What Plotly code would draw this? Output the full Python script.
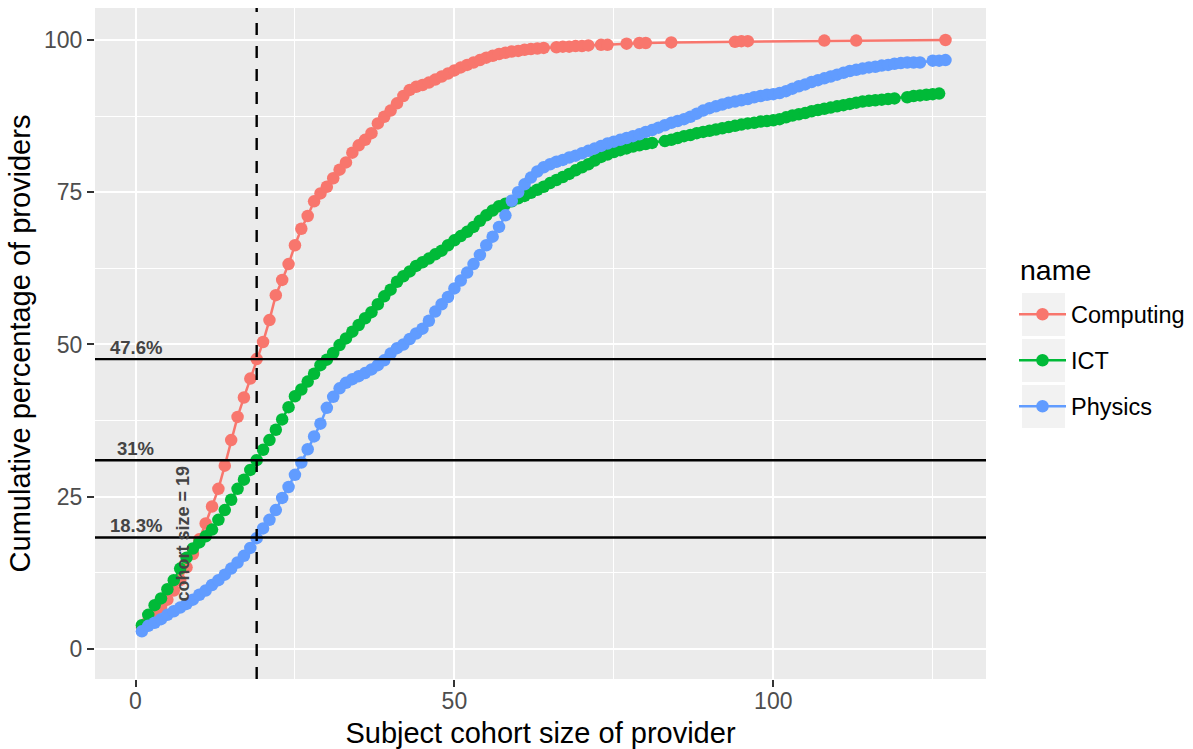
import plotly.graph_objects as go

# ---------------- data ----------------
series_names = ["Computing", "ICT", "Physics"]
series_colors = ["#F8766D", "#00BA38", "#619CFF"]

computing_x = list(range(1, 65)) + [66, 67, 68, 69, 70, 71, 73, 74, 77, 79, 80, 84, 94, 95, 96, 108, 113, 127]
computing_y = [
    3.5, 4.6, 5.6, 6.9, 8.1, 9.6, 11.3, 13.4, 15.6, 18.0,
    20.6, 23.4, 26.3, 30.1, 34.3, 38.1, 41.3, 44.4, 47.6, 50.4,
    54.0, 58.1, 60.6, 63.2, 66.3, 69.0, 71.1, 73.5, 74.8, 75.9,
    77.3, 78.7, 79.9, 81.5, 82.7, 83.6, 84.7, 86.3, 87.4, 88.4,
    89.6, 90.8, 91.8, 92.3, 92.6, 93.0, 93.5, 94.0, 94.5, 95.0,
    95.5, 95.9, 96.3, 96.7, 97.1, 97.4, 97.7, 97.9, 98.1, 98.2,
    98.4, 98.5, 98.6, 98.7,
    98.8, 98.9, 98.9, 99.0, 99.0, 99.1, 99.2, 99.2, 99.4, 99.5, 99.5, 99.6,
    99.7, 99.8, 99.8, 99.9, 99.9, 100.0,
]

ict_x = list(range(1, 82)) + list(range(83, 120)) + list(range(121, 127))
ict_y = [
    3.9, 5.6, 7.2, 8.3, 9.8, 11.3, 13.2, 15.0, 16.5, 17.5,
    18.5, 19.6, 21.2, 22.8, 24.5, 26.3, 27.8, 29.4, 31.0, 32.7,
    34.3, 36.0, 37.7, 39.7, 41.5, 42.6, 43.9, 45.2, 46.6, 47.5,
    48.6, 49.9, 51.0, 52.1, 53.2, 54.3, 55.3, 56.6, 57.9, 59.0,
    60.3, 61.2, 62.0, 62.9, 63.5, 64.1, 64.8, 65.4, 66.3, 67.1,
    67.8, 68.5, 69.3, 70.3, 71.2, 72.0, 72.7, 73.1, 73.5, 74.0,
    74.4, 74.9, 75.4, 75.9, 76.5, 77.0, 77.5, 78.0, 78.6, 79.1,
    79.6, 80.2, 80.8, 81.2, 81.6, 81.9, 82.2, 82.5, 82.7, 82.9,
    83.1,
    83.4, 83.6, 83.9, 84.2, 84.4, 84.7, 84.9, 85.1, 85.3, 85.5,
    85.7, 85.9, 86.1, 86.3, 86.4, 86.6, 86.7, 86.8, 87.0, 87.3,
    87.6, 87.8, 88.0, 88.3, 88.5, 88.7, 88.9, 89.1, 89.3, 89.5,
    89.7, 89.9, 90.0, 90.1, 90.2, 90.3, 90.4,
    90.6, 90.8, 90.9, 91.0, 91.1, 91.2,
]

physics_x = list(range(1, 124)) + [125, 126, 127]
physics_y = [
    2.9, 3.8, 4.3, 4.9, 5.6, 6.2, 6.8, 7.4, 8.1, 8.9,
    9.6, 10.5, 11.3, 12.2, 13.2, 14.2, 15.3, 16.6, 18.2, 19.8,
    21.2, 22.8, 24.8, 26.6, 28.6, 30.6, 32.8, 34.9, 37.0, 39.6,
    41.4, 42.8, 43.7, 44.3, 44.8, 45.3, 45.9, 46.6, 47.4, 48.5,
    49.4, 50.0, 50.9, 51.8, 52.6, 53.9, 55.4, 56.6, 57.8, 59.2,
    60.5, 61.8, 63.2, 64.7, 66.3, 67.7, 69.3, 71.2, 73.6, 75.0,
    76.3, 77.4, 78.4, 79.1, 79.6, 80.0, 80.3, 80.7, 81.0, 81.4,
    81.8, 82.2, 82.6, 83.0, 83.3, 83.6, 83.9, 84.2, 84.5, 84.9,
    85.2, 85.6, 86.0, 86.4, 86.7, 87.0, 87.4, 87.9, 88.4, 88.8,
    89.1, 89.4, 89.7, 89.9, 90.1, 90.3, 90.6, 90.8, 91.0, 91.1,
    91.3, 91.6, 92.0, 92.4, 92.7, 93.1, 93.4, 93.7, 94.0, 94.3,
    94.6, 94.9, 95.1, 95.3, 95.5, 95.6, 95.8, 95.9, 96.1, 96.2,
    96.3, 96.3, 96.3,
    96.6, 96.6, 96.7,
]

hline_values = [47.6, 31, 18.3]
hline_labels = ["47.6%", "31%", "18.3%"]
hline_label_x = 0
cohort_cut = 19
cohort_label = "cohort size = 19"
cohort_label_pos = (7.5, 19)

x_ticks = [0, 50, 100]
x_minor = [25, 75, 125]
y_ticks = [0, 25, 50, 75, 100]
y_minor = [12.5, 37.5, 62.5, 87.5]

# ---------------- figure ----------------
FONT = "Liberation Sans, Arial, Helvetica, sans-serif"
W, H = 1193, 749
ML, MR, MT, MB = 95, 207, 8, 70
PW, PH = W - ML - MR, H - MT - MB


def px_to_paper_x(px):
    return (px - ML) / PW


def px_to_paper_y(py):
    return (H - MB - py) / PH


fig = go.Figure()

xs = [computing_x, ict_x, physics_x]
ys = [computing_y, ict_y, physics_y]

# lines first (as in ggplot: geom_line under geom_point)
for name, col, x, y in zip(series_names, series_colors, xs, ys):
    fig.add_trace(go.Scatter(x=x, y=y, mode="lines", line=dict(color=col, width=2.5),
                             showlegend=False, hoverinfo="skip"))
for name, col, x, y in zip(series_names, series_colors, xs, ys):
    fig.add_trace(go.Scatter(x=x, y=y, mode="markers", name=name,
                             marker=dict(color=col, size=12.5, line=dict(width=0)),
                             showlegend=False))

# legend entries (one legend per key so the spacing matches ggplot's key boxes)
legend_centers_py = [314.5, 360.5, 406.5]
legend_ids = ["legend", "legend2", "legend3"]
for name, col, lid in zip(series_names, series_colors, legend_ids):
    fig.add_trace(go.Scatter(x=[None], y=[None], mode="lines+markers", name=name,
                             line=dict(color=col, width=2.5),
                             marker=dict(color=col, size=12.5),
                             legend=lid, showlegend=True))

shapes = []
for v in hline_values:
    shapes.append(dict(type="line", xref="paper", x0=0, x1=1, yref="y", y0=v, y1=v,
                       line=dict(color="black", width=2.4), layer="above"))
shapes.append(dict(type="line", xref="x", x0=cohort_cut, x1=cohort_cut, yref="paper", y0=0, y1=1,
                   line=dict(color="black", width=2.4, dash="12px,11px"), layer="above"))

# legend key boxes
box_px = [(1022, 293, 1065, 336), (1022, 339, 1065, 382), (1022, 385, 1065, 428)]
for (x0, y0, x1, y1) in box_px:
    shapes.append(dict(type="rect", xref="paper", yref="paper",
                       x0=px_to_paper_x(x0), x1=px_to_paper_x(x1),
                       y0=px_to_paper_y(y1), y1=px_to_paper_y(y0),
                       fillcolor="#F2F2F2", line=dict(width=0), layer="below"))

annotations = []
for v, lab in zip(hline_values, hline_labels):
    annotations.append(dict(x=hline_label_x, y=v, xref="x", yref="y", text="<b>" + lab + "</b>",
                            showarrow=False, yshift=12, font=dict(family=FONT, size=18.5, color="#444444")))
annotations.append(dict(x=cohort_label_pos[0], y=cohort_label_pos[1], xref="x", yref="y",
                        text="<b>" + cohort_label + "</b>", textangle=-90, showarrow=False,
                        font=dict(family=FONT, size=18, color="#444444")))
annotations.append(dict(x=px_to_paper_x(1018), y=px_to_paper_y(270), xref="paper", yref="paper",
                        xanchor="left", yanchor="middle", text="name", showarrow=False,
                        font=dict(family=FONT, size=28.5, color="black")))

legend_common = dict(xanchor="left", yanchor="middle", bgcolor="rgba(0,0,0,0)",
                     font=dict(family=FONT, size=23.5, color="black"), itemwidth=47,
                     borderwidth=0)
layout_legends = {}
for lid, cy in zip(legend_ids, legend_centers_py):
    layout_legends[lid] = dict(legend_common, x=px_to_paper_x(1014), y=px_to_paper_y(cy))

fig.update_layout(
    width=W, height=H,
    margin=dict(l=ML, r=MR, t=MT, b=MB, autoexpand=False),
    paper_bgcolor="white", plot_bgcolor="#EBEBEB",
    font=dict(family=FONT),
    shapes=shapes, annotations=annotations,
    showlegend=True,
    **layout_legends,
)

axis_common = dict(showgrid=True, gridcolor="white", gridwidth=2.4, zeroline=False, showline=False,
                   ticks="outside", ticklen=7, tickwidth=2.2, tickcolor="#333333",
                   tickfont=dict(family=FONT, size=23, color="#4D4D4D"), automargin=False)

fig.update_xaxes(axis_common, range=[-6.35, 133.35], tickmode="array", tickvals=x_ticks,
                 ticktext=[str(t) for t in x_ticks], ticklabelstandoff=-6,
                 minor=dict(tickmode="array", tickvals=x_minor, showgrid=True, gridcolor="white",
                            gridwidth=1.2, ticks=""),
                 title=dict(text="Subject cohort size of provider",
                            font=dict(family=FONT, size=29, color="black"), standoff=12))
fig.update_yaxes(axis_common, range=[-4.93, 105.25], tickmode="array", tickvals=y_ticks,
                 ticktext=[str(t) for t in y_ticks],
                 minor=dict(tickmode="array", tickvals=y_minor, showgrid=True, gridcolor="white",
                            gridwidth=1.2, ticks=""),
                 title=dict(text="Cumulative percentage of providers",
                            font=dict(family=FONT, size=29, color="black"), standoff=4))

fig.write_html("out.html", config={"displayModeBar": False},
               post_script="document.body.style.margin='0px';")
